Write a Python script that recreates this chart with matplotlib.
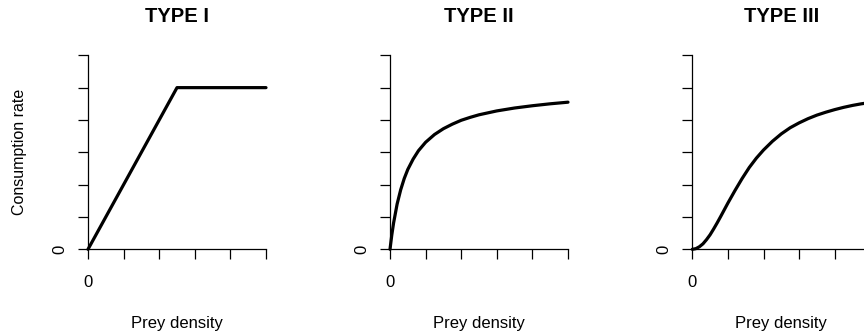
import matplotlib.pyplot as plt

plt.rcParams['font.family'] = ['Liberation Sans', 'DejaVu Sans']

# Prey density on 0..1, consumption rate on 0..6 (axis units)
titles = ["TYPE I", "TYPE II", "TYPE III"]
x_ticks = [0, 0.2, 0.4, 0.6, 0.8, 1.0]
y_ticks = [0, 1, 2, 3, 4, 5, 6]

# Type I: linear rise then flat
type1_x = [0, 0.5, 1.0]
type1_y = [0, 5, 5]

# Type II: fast saturating curve
type2_x = [0, 0.01, 0.02, 0.04, 0.06, 0.08, 0.10, 0.13, 0.16, 0.20, 0.25,
           0.30, 0.35, 0.40, 0.45, 0.50, 0.60, 0.70, 0.80, 0.90, 1.00]
type2_y = [0, 0.44, 0.81, 1.40, 1.84, 2.19, 2.47, 2.79, 3.05, 3.31, 3.55,
           3.73, 3.87, 3.99, 4.08, 4.16, 4.28, 4.37, 4.44, 4.50, 4.55]

# Type III: sigmoid curve
type3_x = [0, 0.02, 0.04, 0.06, 0.08, 0.10, 0.12, 0.14, 0.16, 0.20, 0.24,
           0.28, 0.32, 0.36, 0.40, 0.45, 0.50, 0.55, 0.60, 0.65, 0.70,
           0.75, 0.80, 0.85, 0.90, 0.95, 1.00]
type3_y = [0, 0.02, 0.08, 0.17, 0.30, 0.45, 0.63, 0.82, 1.02, 1.43, 1.82,
           2.19, 2.53, 2.82, 3.07, 3.34, 3.57, 3.76, 3.91, 4.04, 4.15,
           4.24, 4.32, 4.39, 4.45, 4.50, 4.54]

curves = [(type1_x, type1_y), (type2_x, type2_y), (type3_x, type3_y)]

W, H = 864, 334
fig = plt.figure(figsize=(W / 100, H / 100), dpi=100)

lefts = [88, 390, 692.3]
ax_w, top, bottom = 178, 55.3, 249.3

for i, (left, title, (cx, cy)) in enumerate(zip(lefts, titles, curves)):
    ax = fig.add_axes([left / W, 1 - bottom / H, ax_w / W, (bottom - top) / H])
    ax.plot(cx, cy, color='black', lw=2.3, solid_capstyle='round',
            solid_joinstyle='round', clip_on=False)
    ax.set_xlim(0, 1)
    ax.set_ylim(0, 6)
    ax.set_xticks(x_ticks)
    ax.set_yticks(y_ticks)
    ax.set_xticklabels([])
    ax.set_yticklabels([])
    ax.tick_params(direction='out', length=7.3, width=0.9, color='black')
    for side in ['top', 'right']:
        ax.spines[side].set_visible(False)
    for side in ['left', 'bottom']:
        ax.spines[side].set_linewidth(0.9)

    # only the origin gets a label on each axis
    ax.annotate("0", xy=(0, 0), xytext=(0, -24.2), textcoords='offset points',
                ha='center', va='center', fontsize=12)
    ax.annotate("0", xy=(0, 0), xytext=(-20.4, 0), textcoords='offset points',
                ha='center', va='center', fontsize=12, rotation=90)
    ax.annotate("Prey density", xy=(0.5, 0), xycoords='axes fraction',
                xytext=(0, -53.2), textcoords='offset points',
                ha='center', va='center', fontsize=12)
    ax.annotate(title, xy=(0.5, 1), xycoords='axes fraction',
                xytext=(0, (top - 17) * 0.72), textcoords='offset points',
                ha='center', va='center', fontsize=14.5, fontweight='bold')
    if i == 0:
        ax.annotate("Consumption rate", xy=(0, 0.5), xycoords='axes fraction',
                    xytext=(-(left - 20) * 0.72, 0), textcoords='offset points',
                    ha='center', va='center', fontsize=11.5, rotation=90)

fig.savefig('out.png', dpi=100)
